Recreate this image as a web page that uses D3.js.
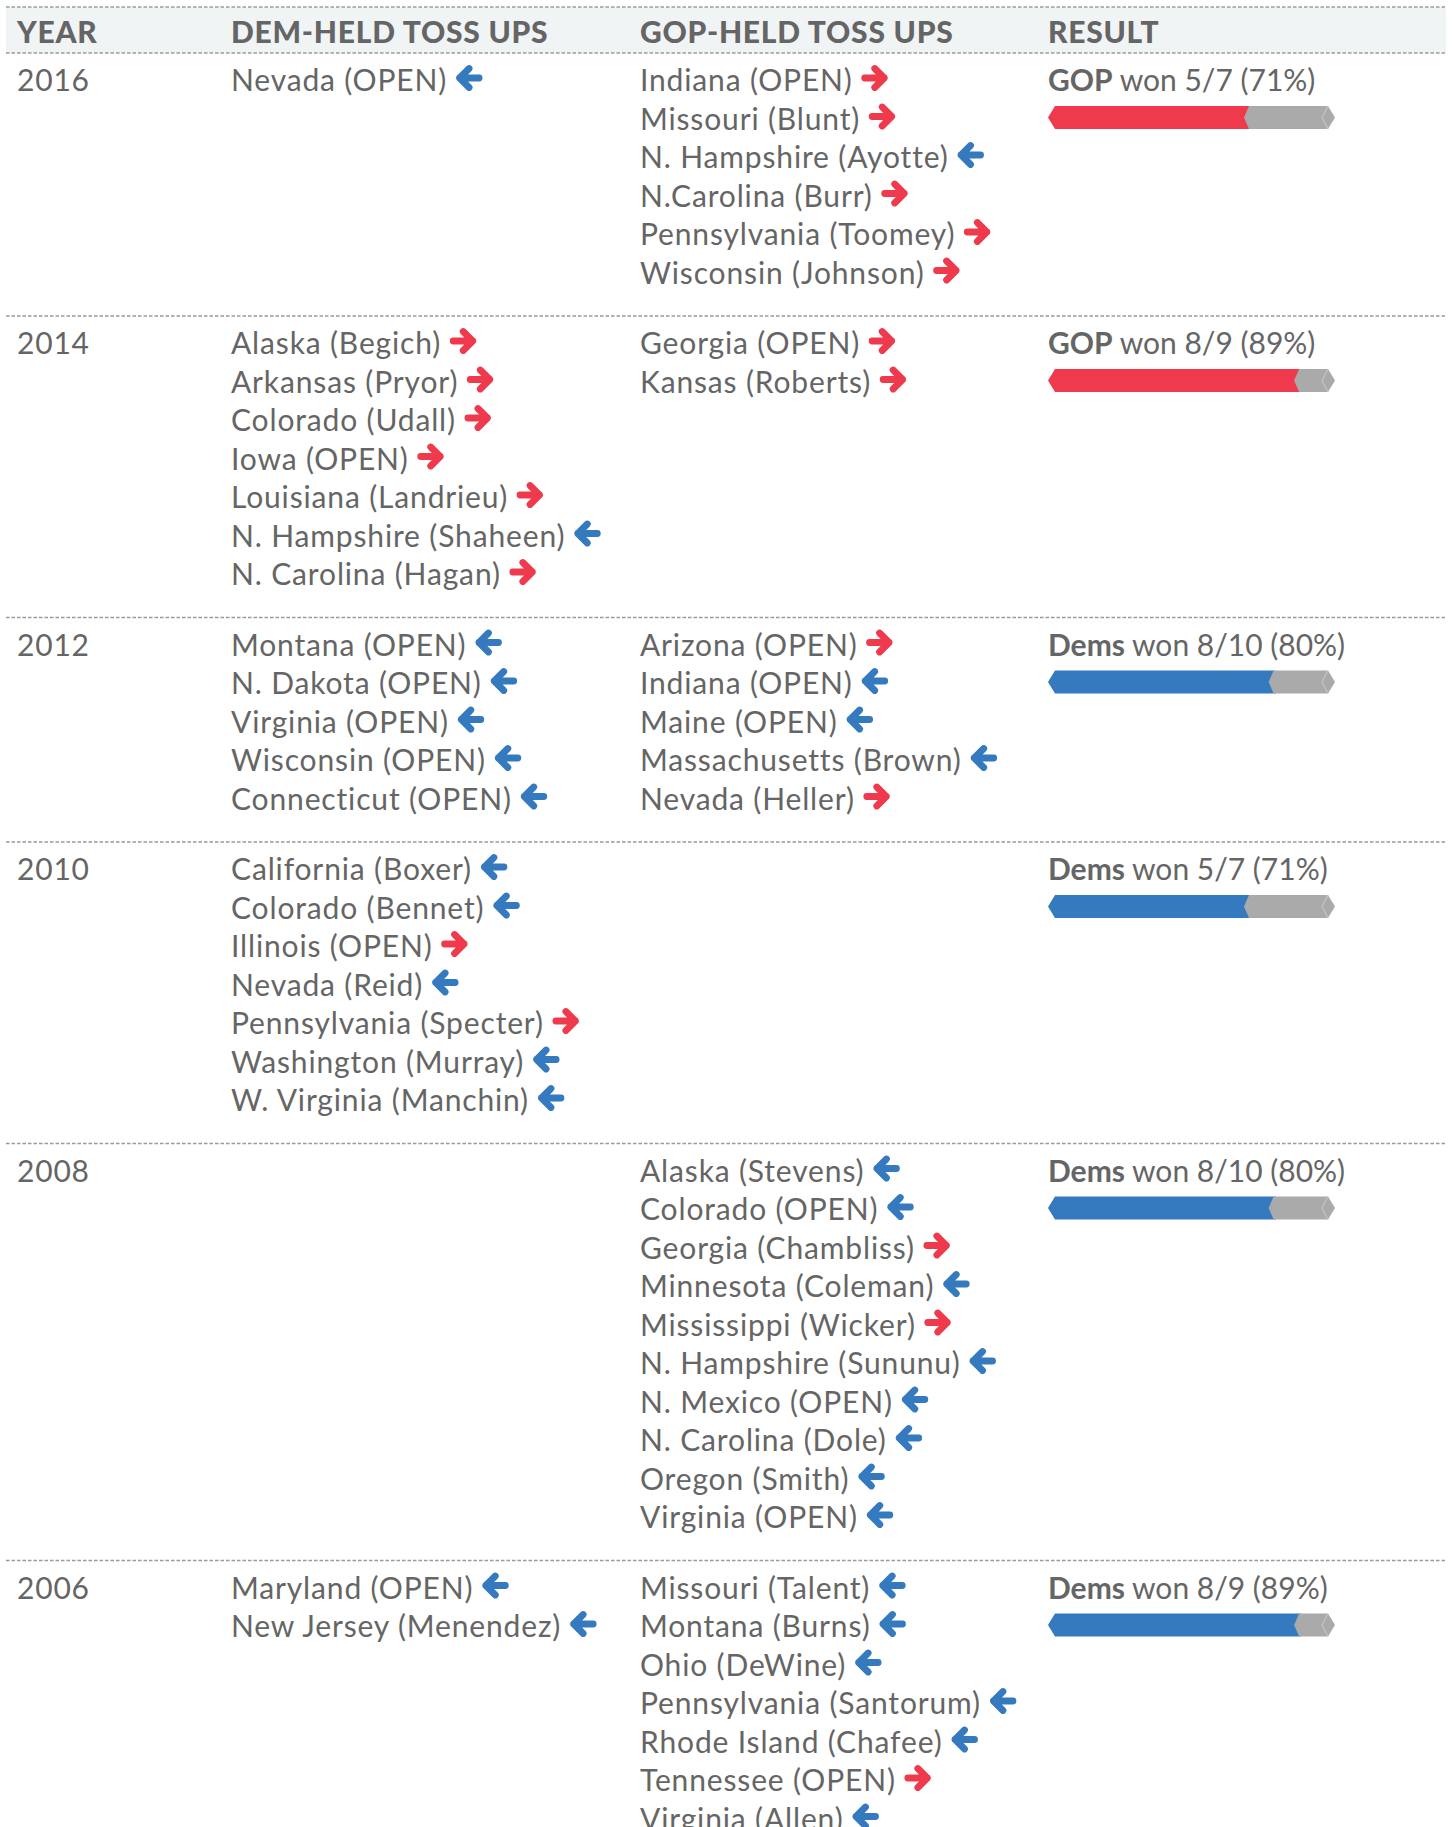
<!DOCTYPE html>
<html>
<head>
<meta charset="utf-8">
<script src="https://cdn.jsdelivr.net/npm/d3@7"></script>
<style>
  body { margin: 0; background: #fff; }
  text { font-family: Lato, "Open Sans", sans-serif; fill: #656565; }
</style>
</head>
<body>
<div id="plot"></div>
<script>
// Width and height
const w = 1452;
const h = 1827;

// column headers
const headers = ["YEAR", "DEM-HELD TOSS UPS", "GOP-HELD TOSS UPS", "RESULT"];

const years = ["2016", "2014", "2012", "2010", "2008", "2006"];

// each race: [label, winner]  D = Dems won (blue left arrow), R = GOP won (red right arrow)
const demHeld = [
  [["Nevada (OPEN)", "D"]],
  [["Alaska (Begich)", "R"], ["Arkansas (Pryor)", "R"], ["Colorado (Udall)", "R"], ["Iowa (OPEN)", "R"],
   ["Louisiana (Landrieu)", "R"], ["N. Hampshire (Shaheen)", "D"], ["N. Carolina (Hagan)", "R"]],
  [["Montana (OPEN)", "D"], ["N. Dakota (OPEN)", "D"], ["Virginia (OPEN)", "D"], ["Wisconsin (OPEN)", "D"],
   ["Connecticut (OPEN)", "D"]],
  [["California (Boxer)", "D"], ["Colorado (Bennet)", "D"], ["Illinois (OPEN)", "R"], ["Nevada (Reid)", "D"],
   ["Pennsylvania (Specter)", "R"], ["Washington (Murray)", "D"], ["W. Virginia (Manchin)", "D"]],
  [],
  [["Maryland (OPEN)", "D"], ["New Jersey (Menendez)", "D"]]
];

const gopHeld = [
  [["Indiana (OPEN)", "R"], ["Missouri (Blunt)", "R"], ["N. Hampshire (Ayotte)", "D"], ["N.Carolina (Burr)", "R"],
   ["Pennsylvania (Toomey)", "R"], ["Wisconsin (Johnson)", "R"]],
  [["Georgia (OPEN)", "R"], ["Kansas (Roberts)", "R"]],
  [["Arizona (OPEN)", "R"], ["Indiana (OPEN)", "D"], ["Maine (OPEN)", "D"], ["Massachusetts (Brown)", "D"],
   ["Nevada (Heller)", "R"]],
  [],
  [["Alaska (Stevens)", "D"], ["Colorado (OPEN)", "D"], ["Georgia (Chambliss)", "R"], ["Minnesota (Coleman)", "D"],
   ["Mississippi (Wicker)", "R"], ["N. Hampshire (Sununu)", "D"], ["N. Mexico (OPEN)", "D"], ["N. Carolina (Dole)", "D"],
   ["Oregon (Smith)", "D"], ["Virginia (OPEN)", "D"]],
  [["Missouri (Talent)", "D"], ["Montana (Burns)", "D"], ["Ohio (DeWine)", "D"], ["Pennsylvania (Santorum)", "D"],
   ["Rhode Island (Chafee)", "D"], ["Tennessee (OPEN)", "R"], ["Virginia (Allen)", "D"]]
];

// result: winning side, seats won, toss ups total
const resultParty = ["GOP", "GOP", "Dems", "Dems", "Dems", "Dems"];
const resultWon = [5, 8, 8, 5, 8, 8];
const resultTotal = [7, 9, 10, 7, 10, 9];

const red = "#ee3a4c";
const blue = "#3579bf";
const grey = "#aaaaaa";

// layout
const colX = [17, 231, 640, 1048];
const lineLeft = 6, lineRight = 1446;
const headTop = 7, headBottom = 53;
const lineH = 38.5, rowPad = 32, firstBase = 38;

const xBar = d3.scaleLinear()
  .domain([0, 1])
  .range([1048, 1335]);

// row tops from item counts
const rowTops = [];
let acc = headBottom;
years.forEach((y, i) => {
  rowTops.push(acc);
  acc += Math.max(demHeld[i].length, gopHeld[i].length, 2) * lineH + rowPad;
});

// create SVG element
const svg = d3.select("div#plot")
  .append("svg")
    .attr("width", w)
    .attr("height", h);

// header band
svg.append("rect")
  .attr("x", lineLeft)
  .attr("y", headTop)
  .attr("width", lineRight - lineLeft)
  .attr("height", headBottom - headTop)
  .attr("fill", "#f1f4f5");

svg.selectAll("text.head")
  .data(headers)
  .enter()
  .append("text")
    .attr("class", "head")
    .attr("x", (d, i) => colX[i])
    .attr("y", 43)
    .style("font-size", "30px")
    .style("font-weight", "900")
    .style("letter-spacing", "0.75px")
    .text(d => d);

// dashed separators
const seps = [headTop].concat(rowTops);
svg.selectAll("line.sep")
  .data(seps)
  .enter()
  .append("line")
    .attr("class", "sep")
    .attr("x1", lineLeft)
    .attr("x2", lineRight)
    .attr("y1", d => d)
    .attr("y2", d => d)
    .attr("stroke", "#9a9a9a")
    .attr("stroke-width", 1.5)
    .attr("stroke-dasharray", "3.5,2");

// arrow glyph
function arrow(g, x, y, winner) {
  const dir = winner === "D" ? -1 : 1;
  g.append("path")
    .attr("transform", `translate(${x + 13}, ${y}) scale(${dir}, 1)`)
    .attr("d", "M-10,0H9.5M0,-9.5L9.5,0L0,9.5")
    .attr("fill", "none")
    .attr("stroke", winner === "D" ? blue : red)
    .attr("stroke-width", 6.8)
    .attr("stroke-linecap", "round")
    .attr("stroke-linejoin", "round");
}

years.forEach((year, i) => {
  const base = rowTops[i] + firstBase;
  const row = svg.append("g").attr("class", "row");

  row.append("text")
    .attr("x", colX[0])
    .attr("y", base)
    .style("font-size", "30px")
    .style("letter-spacing", "0.8px")
    .text(year);

  [demHeld[i], gopHeld[i]].forEach((list, c) => {
    list.forEach((d, k) => {
      const yy = base + k * lineH;
      const t = row.append("text")
        .attr("x", colX[c + 1])
        .attr("y", yy)
        .style("font-size", "30px")
        .style("letter-spacing", "0.85px")
        .text(d[0]);
      const tw = t.node().getComputedTextLength();
      arrow(row, colX[c + 1] + tw + 9, yy - 13, d[1]);
    });
  });

  // result label
  const pct = Math.round(resultWon[i] / resultTotal[i] * 100);
  const rt = row.append("text")
    .attr("x", colX[3])
    .attr("y", base)
    .style("font-size", "30px")
    .style("letter-spacing", "0px");
  rt.append("tspan").style("font-weight", "bold").text(resultParty[i]);
  rt.append("tspan").text(` won ${resultWon[i]}/${resultTotal[i]} (${pct}%)`);

  // result bar
  const frac = resultWon[i] / resultTotal[i];
  const bTop = base + 15, bBot = base + 38, bMid = (bTop + bBot) / 2;
  const x0 = xBar(0), x1 = xBar(1), xf = xBar(frac) - 4;
  row.append("path")
    .attr("d", `M${x0},${bMid}L${x0 + 7},${bTop}H${xf + 2}V${bBot}H${x0 + 7}Z`)
    .attr("fill", resultParty[i] === "GOP" ? red : blue);
  row.append("path")
    .attr("d", `M${xf - 5},${bMid}L${xf},${bTop}H${x1 - 7}L${x1},${bMid}L${x1 - 7},${bBot}H${xf}Z`)
    .attr("fill", grey);
  row.append("path")
    .attr("d", `M${x1 - 7},${bTop}L${x1 - 13},${bMid}L${x1 - 7},${bBot}`)
    .attr("fill", "none")
    .attr("stroke", "#c4c4c4")
    .attr("stroke-width", 1.2);
});
</script>
</body>
</html>
